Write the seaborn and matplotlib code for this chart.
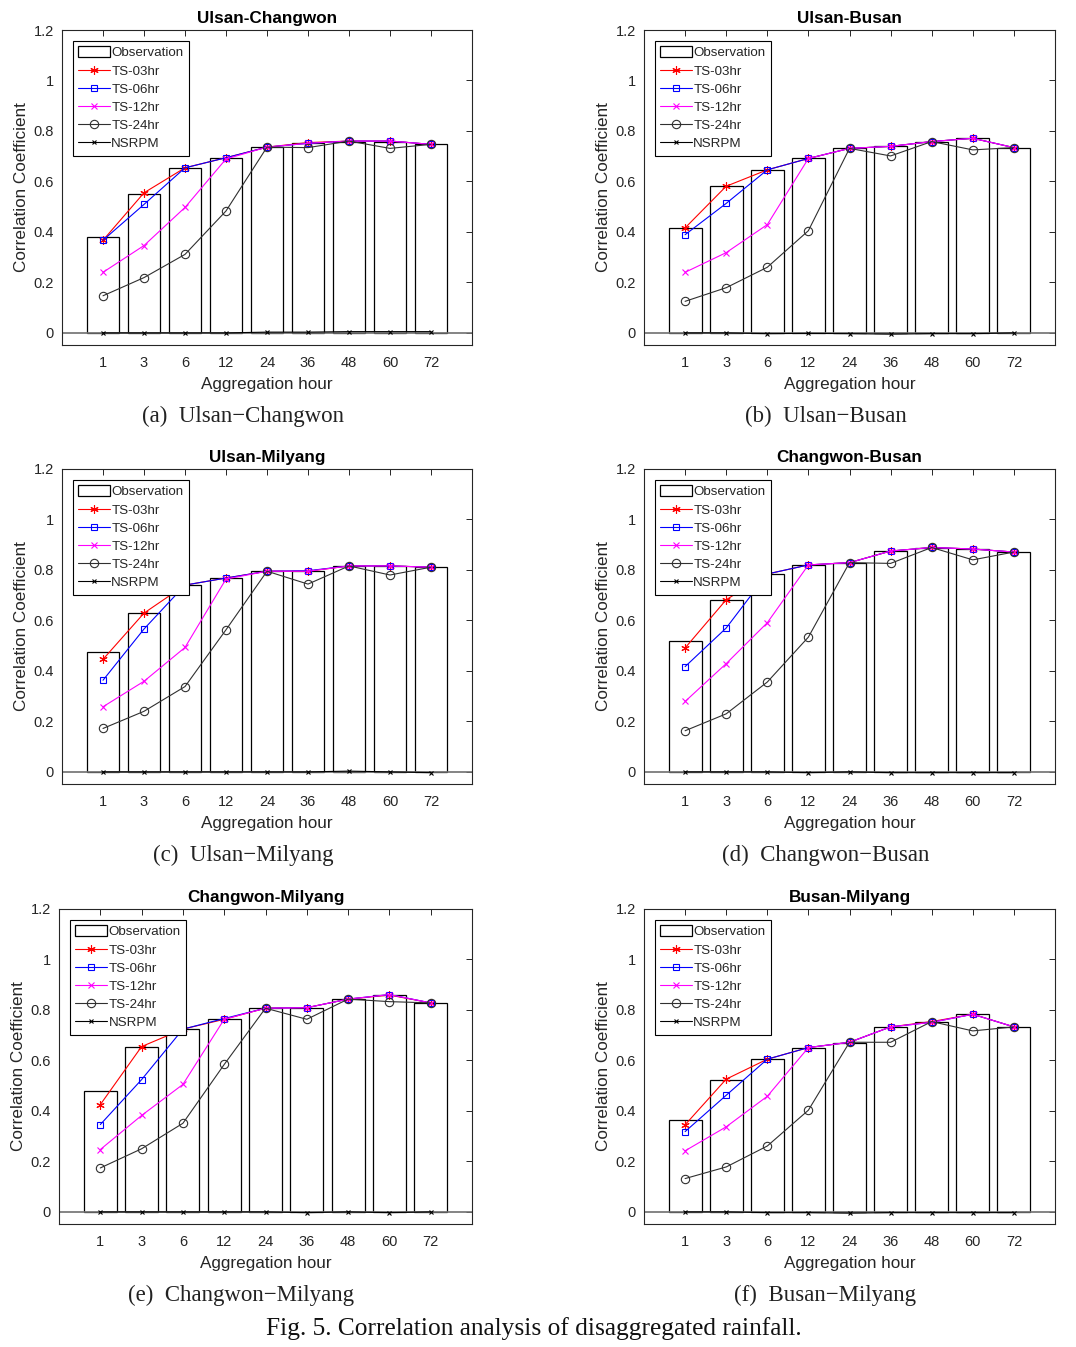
import numpy as np
import pandas as pd
import matplotlib
matplotlib.use("Agg")
import matplotlib.pyplot as plt
import seaborn as sns

sns.set_theme(style="white")
plt.rcParams['font.family'] = ['Liberation Sans', 'DejaVu Sans']

hours = ["1", "3", "6", "12", "24", "36", "48", "60", "72"]
titles = ["Ulsan-Changwon", "Ulsan-Busan", "Ulsan-Milyang",
          "Changwon-Busan", "Changwon-Milyang", "Busan-Milyang"]
captions = ["(a)  Ulsan\u2212Changwon", "(b)  Ulsan\u2212Busan", "(c)  Ulsan\u2212Milyang",
            "(d)  Changwon\u2212Busan", "(e)  Changwon\u2212Milyang", "(f)  Busan\u2212Milyang"]

# (a) Ulsan-Changwon
obs_a  = [0.381, 0.552, 0.654, 0.691, 0.736, 0.751, 0.758, 0.758, 0.747]
ts03_a = [0.367, 0.555, 0.654, 0.694, 0.736, 0.754, 0.760, 0.760, 0.747]
ts06_a = [0.367, 0.509, 0.654, 0.694, 0.736, 0.751, 0.760, 0.760, 0.747]
ts12_a = [0.240, 0.346, 0.497, 0.689, 0.736, 0.751, 0.760, 0.760, 0.747]
ts24_a = [0.147, 0.219, 0.311, 0.483, 0.736, 0.734, 0.760, 0.731, 0.747]
nsr_a  = [0.000, 0.000, 0.000, 0.000, 0.003, 0.003, 0.005, 0.005, 0.005]

# (b) Ulsan-Busan
obs_b  = [0.416, 0.580, 0.646, 0.691, 0.731, 0.739, 0.758, 0.771, 0.731]
ts03_b = [0.416, 0.581, 0.646, 0.691, 0.731, 0.739, 0.758, 0.771, 0.734]
ts06_b = [0.389, 0.513, 0.646, 0.691, 0.731, 0.739, 0.758, 0.771, 0.734]
ts12_b = [0.240, 0.318, 0.429, 0.691, 0.731, 0.739, 0.758, 0.771, 0.734]
ts24_b = [0.125, 0.179, 0.260, 0.405, 0.731, 0.701, 0.758, 0.725, 0.734]
nsr_b  = [0.000, 0.000, -0.003, -0.002, -0.003, -0.005, -0.003, -0.003, 0.000]

# (c) Ulsan-Milyang
obs_c  = [0.473, 0.629, 0.740, 0.768, 0.795, 0.795, 0.816, 0.816, 0.811]
ts03_c = [0.446, 0.629, 0.740, 0.768, 0.795, 0.795, 0.816, 0.816, 0.811]
ts06_c = [0.363, 0.566, 0.740, 0.768, 0.795, 0.797, 0.816, 0.816, 0.811]
ts12_c = [0.258, 0.359, 0.493, 0.764, 0.795, 0.795, 0.816, 0.816, 0.811]
ts24_c = [0.172, 0.240, 0.338, 0.563, 0.795, 0.744, 0.816, 0.780, 0.811]
nsr_c  = [0.000, 0.000, 0.000, 0.000, 0.000, 0.000, 0.003, 0.000, -0.003]

# (d) Changwon-Busan
obs_d  = [0.517, 0.682, 0.783, 0.820, 0.829, 0.875, 0.886, 0.883, 0.871]
ts03_d = [0.491, 0.682, 0.784, 0.820, 0.829, 0.875, 0.889, 0.883, 0.871]
ts06_d = [0.417, 0.570, 0.784, 0.820, 0.829, 0.875, 0.889, 0.883, 0.871]
ts12_d = [0.279, 0.429, 0.591, 0.820, 0.829, 0.875, 0.889, 0.883, 0.871]
ts24_d = [0.163, 0.230, 0.356, 0.534, 0.829, 0.826, 0.889, 0.840, 0.871]
nsr_d  = [0.000, 0.000, 0.000, -0.003, 0.000, -0.003, -0.003, -0.003, -0.003]

# (e) Changwon-Milyang
obs_e  = [0.480, 0.655, 0.724, 0.763, 0.807, 0.809, 0.843, 0.859, 0.828]
ts03_e = [0.425, 0.655, 0.724, 0.763, 0.807, 0.809, 0.843, 0.859, 0.828]
ts06_e = [0.346, 0.524, 0.724, 0.766, 0.807, 0.809, 0.843, 0.861, 0.828]
ts12_e = [0.247, 0.382, 0.505, 0.763, 0.807, 0.809, 0.843, 0.861, 0.828]
ts24_e = [0.174, 0.250, 0.351, 0.584, 0.807, 0.763, 0.843, 0.833, 0.828]
nsr_e  = [0.000, 0.000, 0.000, 0.000, 0.000, -0.003, 0.000, -0.003, 0.000]

# (f) Busan-Milyang
obs_f  = [0.366, 0.524, 0.605, 0.651, 0.670, 0.732, 0.751, 0.783, 0.732]
ts03_f = [0.345, 0.526, 0.605, 0.651, 0.672, 0.733, 0.754, 0.783, 0.733]
ts06_f = [0.318, 0.462, 0.605, 0.651, 0.672, 0.733, 0.751, 0.783, 0.733]
ts12_f = [0.242, 0.337, 0.458, 0.651, 0.672, 0.733, 0.751, 0.783, 0.733]
ts24_f = [0.132, 0.178, 0.261, 0.403, 0.672, 0.672, 0.754, 0.717, 0.733]
nsr_f  = [0.000, 0.000, -0.003, -0.003, -0.005, -0.003, -0.003, -0.003, -0.003]

panels = [
    (obs_a, ts03_a, ts06_a, ts12_a, ts24_a, nsr_a),
    (obs_b, ts03_b, ts06_b, ts12_b, ts24_b, nsr_b),
    (obs_c, ts03_c, ts06_c, ts12_c, ts24_c, nsr_c),
    (obs_d, ts03_d, ts06_d, ts12_d, ts24_d, nsr_d),
    (obs_e, ts03_e, ts06_e, ts12_e, ts24_e, nsr_e),
    (obs_f, ts03_f, ts06_f, ts12_f, ts24_f, nsr_f),
]

series_style = [
    ("TS-03hr", "#ff0000", (6, 2, 0), 6, "#ff0000"),
    ("TS-06hr", "#0000ff", "s", 4.5, "none"),
    ("TS-12hr", "#ff00ff", "x", 4.5, "#ff00ff"),
    ("TS-24hr", "#303030", "o", 6, "none"),
    ("NSRPM", "#000000", "x", 3.5, "#000000"),
]

W, H = 1076, 1347
fig = plt.figure(figsize=(W / 100, H / 100), dpi=100)

rects = [
    (62, 30, 472, 345), (644, 30, 1055, 345),
    (62, 469, 472, 784), (644, 469, 1055, 784),
    (59, 909, 472, 1224), (644, 909, 1055, 1224),
]

axcol = "#262626"
serif = ["Liberation Serif", "DejaVu Serif"]
for i, (rect, data) in enumerate(zip(rects, panels)):
    l, t, r, b = rect
    ax = fig.add_axes([l / W, 1 - b / H, (r - l) / W, (b - t) / H])
    obs = data[0]
    df = pd.DataFrame({"hour": hours, "obs": obs})
    sns.barplot(data=df, x="hour", y="obs", order=hours, color="white",
                edgecolor="black", linewidth=0.9, width=0.8, saturation=1,
                ax=ax, label="Observation")
    ax.axhline(0, color="#707070", lw=1.2, zorder=1.5)
    xs = np.arange(len(hours))
    for (name, col, mk, ms, mfc), vals in zip(series_style, data[1:]):
        sns.lineplot(x=xs, y=vals, color=col, marker=mk, markersize=ms,
                     markerfacecolor=mfc, markeredgecolor=col,
                     markeredgewidth=0.8, lw=0.8, ax=ax, label=name,
                     zorder=3)
    ax.set_xlim(-1, 9)
    ax.set_ylim(-0.048, 1.2)
    ax.set_xticks(xs)
    ax.set_xticklabels(hours)
    ax.set_yticks([0, 0.2, 0.4, 0.6, 0.8, 1.0, 1.2])
    ax.set_yticklabels(["0", "0.2", "0.4", "0.6", "0.8", "1", "1.2"])
    ax.tick_params(direction="in", length=4, width=0.7, top=True, right=True,
                   labelsize=10.5, colors=axcol, pad=8)
    ax.tick_params(axis="y", pad=6)
    for sp in ax.spines.values():
        sp.set_color(axcol)
        sp.set_linewidth(0.8)
        sp.set_visible(True)
    ax.set_xlabel("Aggregation hour", fontsize=12.3, color=axcol, labelpad=5)
    ax.set_ylabel("Correlation Coefficient", fontsize=12.3, color=axcol, labelpad=3)
    ax.set_title(titles[i], fontsize=12.3, fontweight="bold", color="black", pad=5)
    handles, labels = ax.get_legend_handles_labels()
    order = [labels.index("Observation")] + [k for k, lb in enumerate(labels) if lb != "Observation"]
    handles = [handles[k] for k in order]
    labels = [labels[k] for k in order]
    leg = ax.legend(handles, labels, loc="upper left", bbox_to_anchor=(0.026, 0.965),
                    borderaxespad=0, fontsize=9.6, frameon=True, fancybox=False,
                    edgecolor="black", framealpha=1, borderpad=0.4,
                    labelspacing=0.38, handlelength=2.4, handleheight=0.9,
                    handletextpad=0.1)
    leg.get_frame().set_linewidth(0.8)
    cx = (l + r) / 2 - 24
    fig.text(cx / W, 1 - (b + 71) / H, captions[i], ha="center", va="center",
             fontsize=16.5, family=serif, color="#222222")

fig.text(534 / W, 1 - 1329 / H, "Fig. 5. Correlation analysis of disaggregated rainfall.",
         ha="center", va="center", fontsize=18.3, family=serif, color="#111111")

fig.savefig("out.png", dpi=100, facecolor="white")
